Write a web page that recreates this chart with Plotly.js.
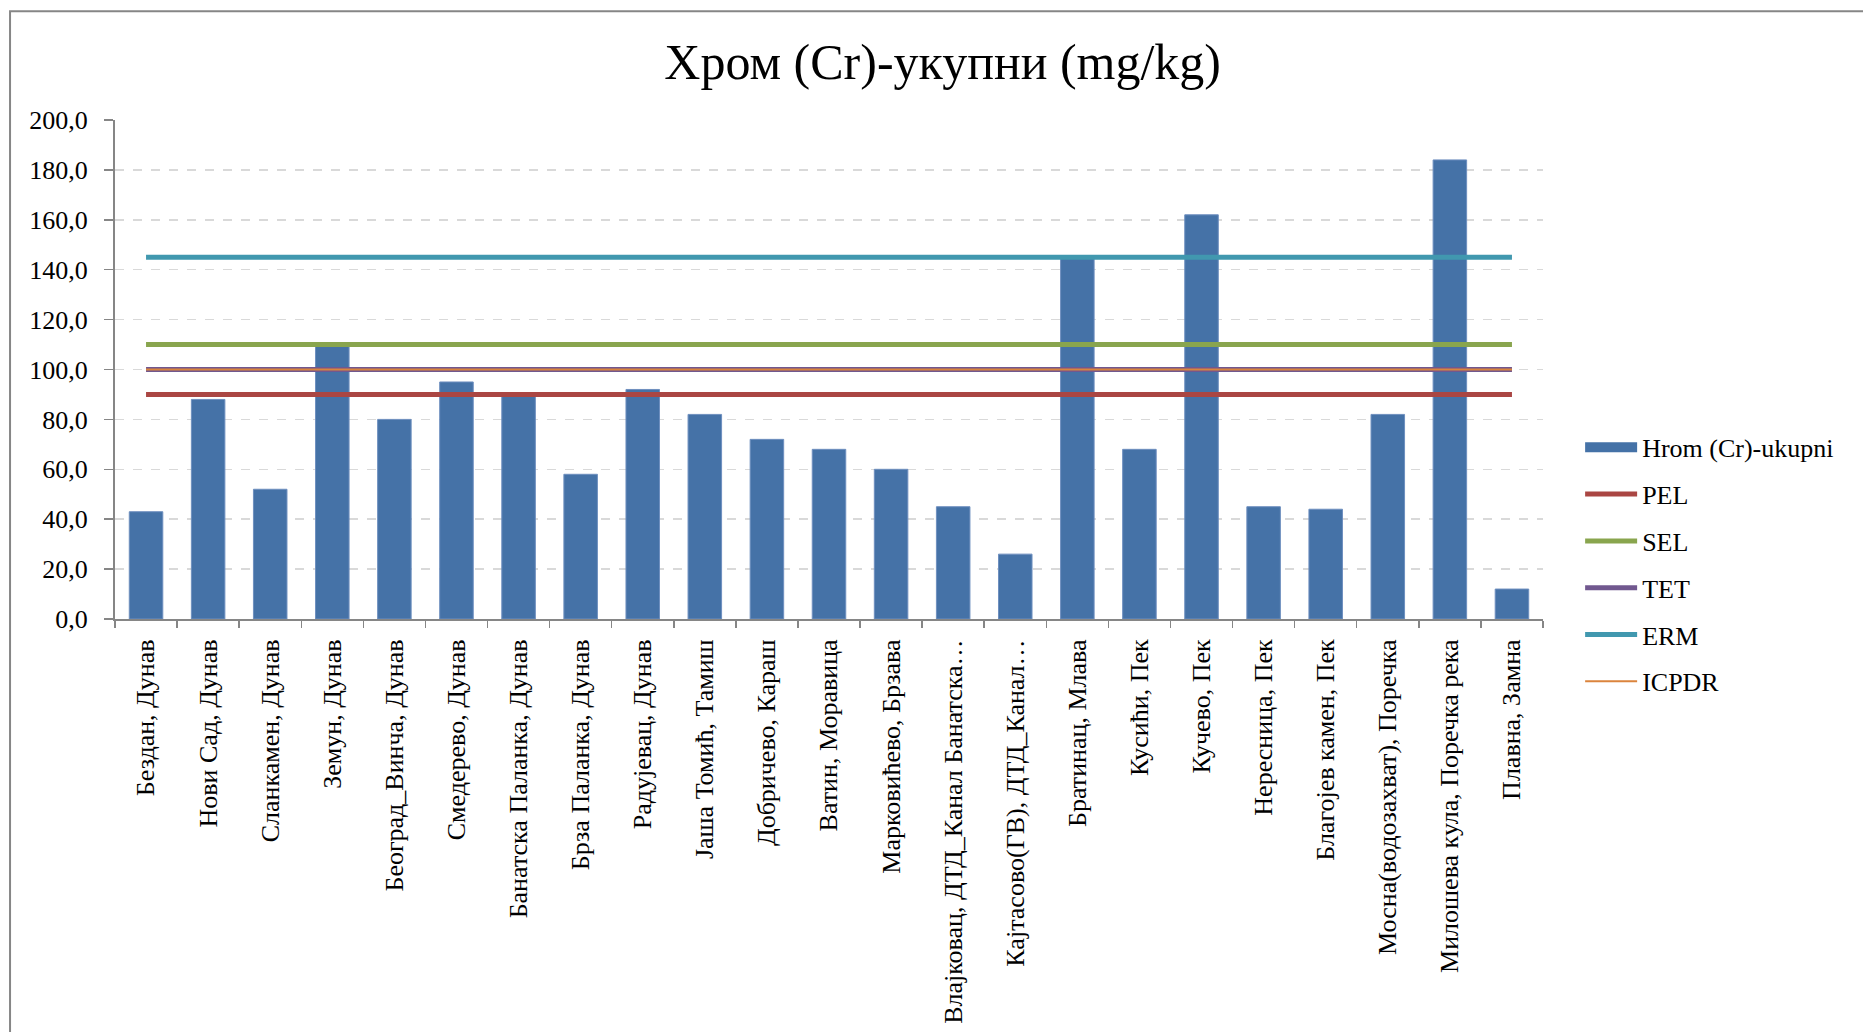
<!DOCTYPE html>
<html>
<head>
<meta charset="utf-8">
<script src="https://cdn.plot.ly/plotly-3.0.1.min.js"></script>
<style>
  html, body { margin: 0; padding: 0; background: #ffffff; }
  #chart { width: 1863px; height: 1032px; }
</style>
</head>
<body>
<div id="chart"></div>
<script>
const categories = [
  "Бездан, Дунав", "Нови Сад, Дунав", "Сланкамен, Дунав", "Земун, Дунав",
  "Београд_Винча, Дунав", "Смедерево, Дунав", "Банатска Паланка, Дунав",
  "Брза Паланка, Дунав", "Радујевац, Дунав", "Јаша Томић, Тамиш",
  "Добричево, Караш", "Ватин, Моравица", "Марковићево, Брзава",
  "Влајковац, ДТД_Канал Банатска…", "Кајтасово(ГВ), ДТД_Канал…",
  "Братинац, Млава", "Кусићи, Пек", "Кучево, Пек", "Нересница, Пек",
  "Благојев камен, Пек", "Мосна(водозахват), Поречка",
  "Милошева кула, Поречка река", "Плавна, Замна"
];
const hromValues = [43, 88, 52, 110, 80, 95, 90, 58, 92, 82, 72, 68, 60, 45, 26, 145, 68, 162, 45, 44, 82, 184, 12];
const pelLevel = 90;
const selLevel = 110;
const tetLevel = 100;
const ermLevel = 145;
const icpdrLevel = 100;
const yTickVals = [0, 20, 40, 60, 80, 100, 120, 140, 160, 180, 200];
const yTickText = ["0,0", "20,0", "40,0", "60,0", "80,0", "100,0", "120,0", "140,0", "160,0", "180,0", "200,0"];

const serif = "Liberation Serif, Times New Roman, serif";
const flat = v => categories.map(() => v);

function lineTrace(name, level, color, width, group) {
  return {
    type: "scatter", mode: "lines", name: name, x: categories, y: flat(level),
    line: { color: color, width: width }, legendgroup: group, hoverinfo: "skip"
  };
}

const traces = [
  { type: "bar", name: "Hrom (Cr)-ukupni", x: categories, y: hromValues, showlegend: false,
    marker: { color: "#4572A7", line: { color: "#6E8FBF", width: 1 } }, legendgroup: "g1" },
  /* legend-only entry so the bar series shows a wide swatch like the original */
  { type: "scatter", mode: "lines", name: "Hrom (Cr)-ukupni", x: [categories[0]], y: [null],
    line: { color: "#4572A7", width: 14 }, legendgroup: "g1", hoverinfo: "skip" },
  lineTrace("PEL", pelLevel, "#AA4643", 5, "g2"),
  lineTrace("SEL", selLevel, "#89A54E", 5, "g3"),
  lineTrace("TET", tetLevel, "#71588F", 5, "g4"),
  lineTrace("ERM", ermLevel, "#4198AF", 5, "g5"),
  lineTrace("ICPDR", icpdrLevel, "#DB843D", 2, "g6")
];

const layout = {
  width: 1863, height: 1032,
  paper_bgcolor: "#ffffff", plot_bgcolor: "#ffffff",
  margin: { l: 115, r: 320, t: 120, b: 413 },
  font: { family: serif, color: "#000000", size: 22 },
  title: { text: "Хром (Cr)-укупни (mg/kg)", font: { family: serif, size: 50, color: "#000000" },
           x: 0.506, xanchor: "center", xref: "container", y: 0.94, yref: "container", yanchor: "middle" },
  bargap: 0.46,
  showlegend: true,
  legend: { x: 1.026, xanchor: "left", y: 0.391, yanchor: "top", font: { family: serif, size: 26 },
            traceorder: "grouped", tracegroupgap: 10, itemwidth: 52, bgcolor: "rgba(0,0,0,0)" },
  xaxis: {
    type: "category", tickangle: -90, tickfont: { family: serif, size: 26 },
    ticklabelstandoff: 8,
    showline: true, linecolor: "#868686", linewidth: 2,
    ticks: "outside", ticklen: 7, tickcolor: "#868686", tickwidth: 1.5,
    tickson: "boundaries", showgrid: false, automargin: false, fixedrange: true
  },
  yaxis: {
    range: [0, 200], tickvals: yTickVals, ticktext: yTickText,
    tickfont: { family: serif, size: 26 }, ticklabelstandoff: 11,
    showline: true, linecolor: "#868686", linewidth: 2,
    ticks: "outside", ticklen: 9, tickcolor: "#868686", tickwidth: 1.5,
    showgrid: true, gridcolor: "#D9D9D9", gridwidth: 1.5, griddash: "dash",
    zeroline: false, automargin: false, fixedrange: true
  },
  shapes: [{
    type: "rect", xref: "paper", yref: "paper",
    x0: -0.0735, x1: 1.3, y0: -1.0, y1: 1.218,
    line: { color: "#868686", width: 2 }, fillcolor: "rgba(0,0,0,0)", layer: "below"
  }]
};

Plotly.newPlot("chart", traces, layout, { displayModeBar: false, staticPlot: true });
</script>
</body>
</html>
